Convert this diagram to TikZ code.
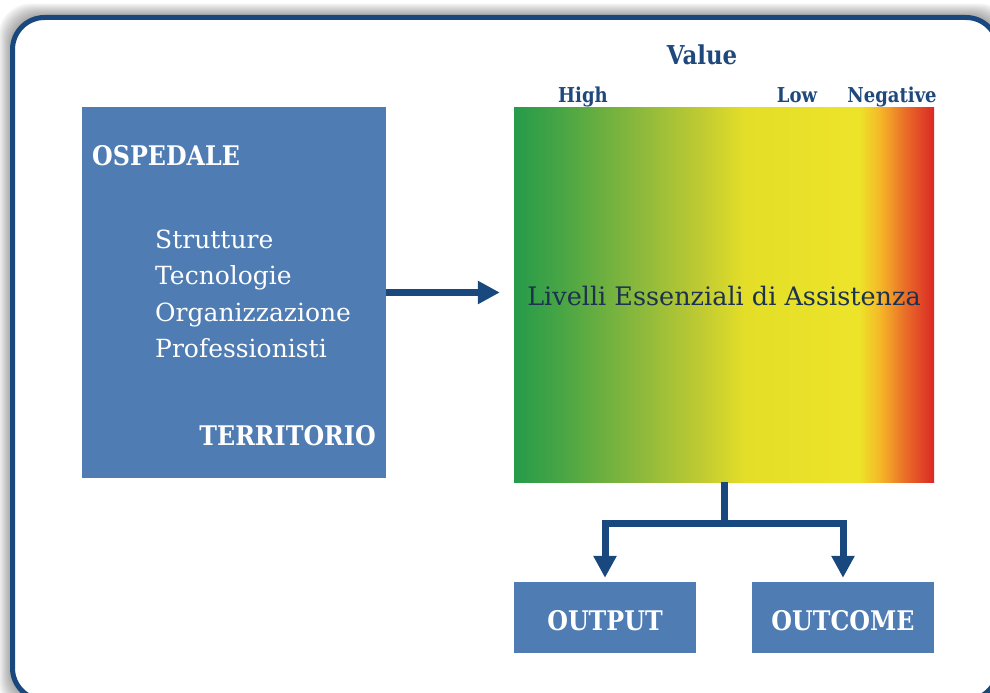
\documentclass[tikz,border=0pt]{standalone}
\usepackage{fontspec}
\setmainfont{DejaVu Serif}[BoldFeatures={FakeStretch=0.88}]
\usetikzlibrary{arrows.meta}
\definecolor{boxblue}{RGB}{79,124,179}
\definecolor{navy}{RGB}{24,72,125}
\definecolor{titleblue}{RGB}{31,73,125}
\definecolor{darktext}{RGB}{28,50,80}
\definecolor{g0}{RGB}{38,155,74}
\definecolor{g1}{RGB}{72,165,68}
\definecolor{g2}{RGB}{140,185,60}
\definecolor{g3}{RGB}{190,202,50}
\definecolor{g4}{RGB}{228,222,40}
\definecolor{g5}{RGB}{237,228,42}
\definecolor{g6}{RGB}{245,185,40}
\definecolor{g7}{RGB}{234,110,40}
\definecolor{g8}{RGB}{218,40,38}
\pgfdeclarehorizontalshading{lea}{100bp}{color(0bp)=(g0); color(25bp)=(g0); color(30.5bp)=(g1); color(40bp)=(g2); color(47bp)=(g3); color(52.5bp)=(g4); color(66bp)=(g5); color(68.5bp)=(g6); color(71.5bp)=(g7); color(75bp)=(g8); color(100bp)=(g8)}
\tikzset{
  bluebox/.style={fill=boxblue, draw=none, inner sep=0pt},
  whitebold/.style={text=white, font=\fontsize{27}{32}\selectfont\bfseries, inner sep=0pt},
  listtext/.style={text=white, font=\fontsize{25}{30}\selectfont, inner sep=0pt, anchor=base west},
  scalelabel/.style={text=titleblue, font=\fontsize{20.5}{23}\selectfont\bfseries, inner sep=0pt, anchor=base},
  conn/.style={draw=navy, line width=7pt, line join=miter, -{Triangle[length=22pt,width=22pt]}},
}
\begin{document}
\begin{tikzpicture}[x=1pt,y=-1pt]
\useasboundingbox (0,0) rectangle (990,693);
% shadow
\foreach \i in {1,...,14}
  \fill[black, opacity=0.03, rounded corners=32pt] (12.5-\i,17.5-\i) rectangle (998+\i,700+\i);
% frame
\fill[white, rounded corners=32pt] (12.5,17.5) rectangle (998,700);
\draw[navy, line width=5pt, rounded corners=32pt] (12.5,17.5) rectangle (998,700);

% left box
\node[bluebox, minimum width=304pt, minimum height=371pt] (lb) at (234,292.5) {};
\node[whitebold, anchor=base west] (osp) at (92,165) {OSPEDALE};
\node[listtext] (l1) at (155,248) {Strutture};
\node[listtext] (l2) at (155,284.6) {Tecnologie};
\node[listtext] (l3) at (155,321.2) {Organizzazione};
\node[listtext] (l4) at (155,357.8) {Professionisti};
\node[whitebold, anchor=base east] (ter) at (376,445) {TERRITORIO};

% gradient box
\node[shading=lea, inner sep=0pt, minimum width=420pt, minimum height=375pt] (lea) at (724,294.5) {};
\node[text=darktext, font=\fontsize{25.5}{30}\selectfont, inner sep=0pt, anchor=base] (leat) at (724,305) {Livelli Essenziali di Assistenza};

\node[text=titleblue, font=\fontsize{26}{30}\selectfont\bfseries, inner sep=0pt, anchor=base] (val) at (702,65) {Value};
\node[scalelabel] (hi) at (583,102) {High};
\node[scalelabel] (lo) at (797,102) {Low};
\node[scalelabel] (neg) at (892,102) {Negative};

% output boxes
\node[bluebox, minimum width=182pt, minimum height=71pt] (out) at (605,617.5) {};
\node[whitebold, anchor=base] (outt) at (605,630) {OUTPUT};
\node[bluebox, minimum width=182pt, minimum height=71pt] (outc) at (843,617.5) {};
\node[whitebold, anchor=base] (outct) at (843,630) {OUTCOME};

% connectors
\draw[conn, shorten >=14pt] (lb.east) -- (lb.east -| lea.west);
\draw[conn, shorten >=4pt] (lea.south) -- ++(0,41) -| (out.north);
\draw[conn, shorten >=4pt] (lea.south) -- ++(0,41) -| (outc.north);
\end{tikzpicture}
\end{document}
